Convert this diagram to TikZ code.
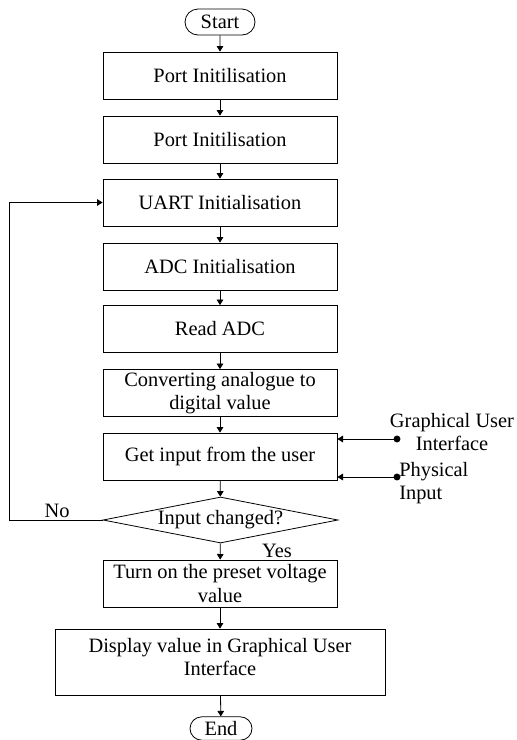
\documentclass[tikz,border=0pt]{standalone}
\usepackage{fontspec}
\setmainfont{Liberation Serif}
\usetikzlibrary{arrows.meta,shapes.geometric,shapes.misc,shadows}

\begin{document}
\begin{tikzpicture}[x=0.75pt,y=-0.75pt,
  font=\fontsize{15.3}{17.5}\selectfont,
  every node/.style={inner sep=0pt},
  line/.style={line width=0.6pt,draw=black},
  arr/.style={line, -{Triangle[length=4.2pt,width=5pt]}},
  procbox/.style={rectangle, line, fill=white, align=center,
    minimum width=175.5pt, minimum height=35.25pt,
    drop shadow={shadow xshift=0.7pt, shadow yshift=-0.7pt, fill=black!55, opacity=1}},
  termbox/.style={rounded rectangle, line, fill=white,
    minimum height=19.5pt},
  decbox/.style={diamond, line, aspect=5.1,
    minimum width=176.25pt, minimum height=34.5pt},
  plain/.style={align=center},
  dot/.style={fill=black}
]
\useasboundingbox (0,0) rectangle (517,740);

% main column
\node[termbox, minimum width=52.5pt] (start) at (220,22) {Start};
\node[procbox] (p1)   at (220,75.5)  {Port Initilisation};
\node[procbox] (p2)   at (220,139.5) {Port Initilisation};
\node[procbox] (uart) at (220,202.5) {UART Initialisation};
\node[procbox] (adc)  at (220,266.5) {ADC Initialisation};
\node[procbox] (read) at (220,329)   {Read ADC};
\node[procbox] (conv) at (220,393)   {Converting analogue to\\digital value};
\node[procbox] (get)  at (220,456.5) {Get input from the user};
\node[decbox]  (dec)  at (220.5,520) {Input changed?};
\node[procbox] (turn) at (220,583.5) {Turn on the preset voltage\\value};
\node[procbox, minimum width=247.5pt, minimum height=49.5pt] (disp) at (220,662)
  {Display value in Graphical User\\Interface\rule[-8pt]{0pt}{8pt}};
\node[termbox, minimum width=46.5pt, minimum height=17.5pt] (end) at (221,728.5) {End};

% flow arrows
\draw[arr] (start) -- (p1);
\draw[arr] (p1) -- (p2);
\draw[arr] (p2) -- (uart);
\draw[arr] (uart) -- (adc);
\draw[arr] (adc) -- (read);
\draw[arr] (read) -- (conv);
\draw[arr] (conv) -- (get);
\draw[arr] (get) -- (dec);
\draw[arr] (dec) -- (turn);
\draw[arr] (turn) -- (disp);
\draw[arr] (disp) -- (end);

% "No" loop back to UART
\coordinate (loopx) at (9,0);
\draw[arr] (dec.west) -| (loopx |- uart) -- (uart.west);
\node (nolbl) at (57,511) {No};
\node (yeslbl) at (277,551) {Yes};

% external inputs
\coordinate (gui) at (397,439);
\coordinate (phys) at (397,477);
\draw[arr] (gui) -- (get.east |- gui);
\draw[arr] (phys) -- (get.east |- phys);
\fill[dot] (gui) circle (2.6pt);
\fill[dot] (phys) circle (2.6pt);
\node[plain, anchor=north] (guilbl) at (452,413) {Graphical User\\Interface};
\node[align=left, anchor=north west] (physlbl) at (399,462) {Physical\\Input};
\end{tikzpicture}
\end{document}
